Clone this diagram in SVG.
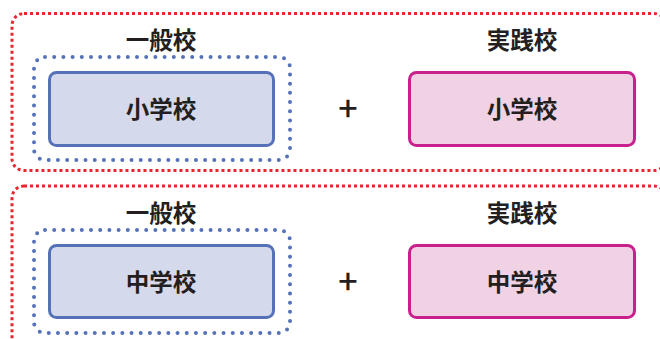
<svg xmlns="http://www.w3.org/2000/svg" width="660" height="339" viewBox="0 0 660 339">
<style>
.red{fill:none;stroke:#e8262d;stroke-width:3;stroke-dasharray:3 3}
.dot{fill:none;stroke:#5572b8;stroke-width:4;stroke-linecap:round;stroke-dasharray:0 9.2}
.gen{fill:#d5d9ec;stroke:#5572b8;stroke-width:3}
.prac{fill:#f0d2e4;stroke:#c8208c;stroke-width:3}
text{font-family:"Noto Sans CJK JP","Noto Sans CJK SC",sans-serif;font-weight:bold;fill:#231f20;text-anchor:middle}
.h{font-size:23.5px}
.b{font-size:23.5px}
.p{font-size:34px;font-weight:500}
</style>
<rect class="red" x="12" y="13.5" width="654" height="157" rx="12"/>
<rect class="red" x="12" y="186" width="654" height="180" rx="12"/>
<g id="row1">
<text class="h" x="161" y="49">一般校</text>
<text class="h" x="522" y="49">実践校</text>
<g id="general-elem">
<rect class="dot" x="34" y="57" width="256" height="103" rx="11"/>
<rect class="gen" x="49.5" y="72.5" width="224" height="73" rx="7"/>
<text class="b" x="161" y="118">小学校</text>
</g>
<text class="p" x="348" y="121">+</text>
<g id="practice-elem">
<rect class="prac" x="409.5" y="72.5" width="225" height="73" rx="7"/>
<text class="b" x="522" y="118">小学校</text>
</g>
</g>
<g id="row2">
<text class="h" x="161" y="222">一般校</text>
<text class="h" x="522" y="222">実践校</text>
<g id="general-mid">
<rect class="dot" x="34" y="230" width="256" height="103" rx="11"/>
<rect class="gen" x="49.5" y="245.5" width="224" height="72" rx="7"/>
<text class="b" x="161" y="291">中学校</text>
</g>
<text class="p" x="348" y="294">+</text>
<g id="practice-mid">
<rect class="prac" x="409.5" y="245.5" width="225" height="72" rx="7"/>
<text class="b" x="522" y="291">中学校</text>
</g>
</g>
</svg>
